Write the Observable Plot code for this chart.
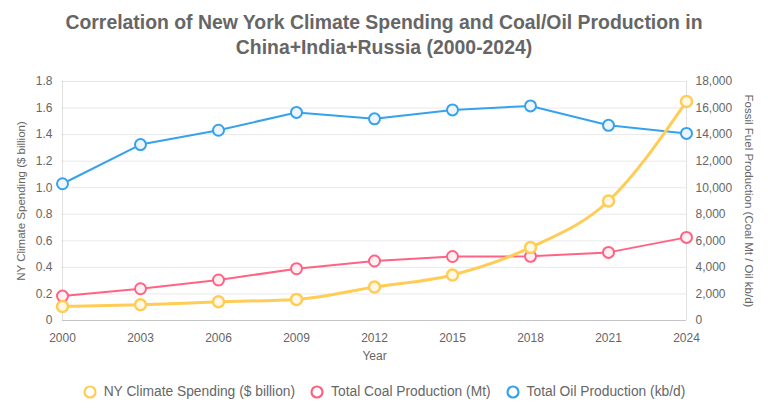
<!DOCTYPE html>
<html>
<head>
<meta charset="utf-8">
<script src="https://cdn.jsdelivr.net/npm/d3@7"></script>
<script src="https://cdn.jsdelivr.net/npm/@observablehq/plot@0.6"></script>
<style>
  body { margin: 0; background: #fff; font-family: "Liberation Sans", Arial, sans-serif; }
  #title { width: 768px; height: 60px; padding-top: 10px; text-align: center; font-weight: bold; font-size: 19.4px; line-height: 25px; color: #666; }
  #legend { width: 768px; display: flex; justify-content: center; align-items: center; gap: 15px; margin-top: 12px; font-size: 13.8px; color: #666; line-height: 20px; box-sizing: border-box; }
  .item { display: flex; align-items: center; gap: 7px; }
</style>
</head>
<body>
<div id="title">Correlation of New York Climate Spending and Coal/Oil Production in<br>China+India+Russia (2000-2024)</div>
<div id="chart"></div>
<div id="legend"></div>
<script>
const years = ["2000", "2003", "2006", "2009", "2012", "2015", "2018", "2021", "2024"];
const nySpending = [0.106, 0.118, 0.141, 0.159, 0.252, 0.343, 0.55, 0.9, 1.65];
const coalProduction = [1840, 2390, 3050, 3900, 4480, 4820, 4830, 5130, 6260];
const oilProduction = [10300, 13250, 14330, 15670, 15190, 15860, 16160, 14700, 14090];
const leftTicks = [0, 0.2, 0.4, 0.6, 0.8, 1.0, 1.2, 1.4, 1.6, 1.8];
const rightTicks = [0, 2000, 4000, 6000, 8000, 10000, 12000, 14000, 16000, 18000];
const seriesNames = ["NY Climate Spending ($ billion)", "Total Coal Production (Mt)", "Total Oil Production (kb/d)"];
const colors = ["rgb(255,205,86)", "rgb(255,99,132)", "rgb(54,162,235)"];
const leftTitle = "NY Climate Spending ($ billion)";
const rightTitle = "Fossil Fuel Production (Coal Mt / Oil kb/d)";
const xTitle = "Year";

const ratio = 10000; // right-axis units per left-axis unit
const ny = years.map((y, i) => ({year: y, v: nySpending[i]}));
const coal = years.map((y, i) => ({year: y, v: coalProduction[i] / ratio}));
const oil = years.map((y, i) => ({year: y, v: oilProduction[i] / ratio}));

const chart = Plot.plot({
  width: 768,
  height: 300,
  marginTop: 11,
  marginBottom: 50,
  marginLeft: 62,
  marginRight: 82,
  style: {fontFamily: "Liberation Sans, Arial, sans-serif", fontSize: "12px", color: "#666"},
  x: {type: "point", domain: years, padding: 0},
  y: {domain: [0, 1.8]},
  marks: [
    Plot.gridY(leftTicks, {stroke: "#000", strokeOpacity: 0.09}),
    Plot.ruleX([years[0], years[years.length - 1]], {stroke: "#000", strokeOpacity: 0.12}),
    Plot.ruleY([0], {stroke: "#000", strokeOpacity: 0.15}),
    Plot.axisX({tickSize: 0, tickPadding: 13, label: null}),
    Plot.axisY({anchor: "left", ticks: leftTicks, tickSize: 0, tickPadding: 10, label: null,
      tickFormat: d => d === 0 ? "0" : d.toFixed(1)}),
    Plot.axisY({anchor: "right", ticks: rightTicks.map(t => t / ratio), tickSize: 0, tickPadding: 9, label: null,
      tickFormat: d => d3.format(",")(Math.round(d * ratio))}),
    Plot.text([leftTitle], {text: d => d, frameAnchor: "left", textAnchor: "middle", dx: -41, rotate: -90, fontSize: 11.5, fill: "#666"}),
    Plot.text([rightTitle], {text: d => d, frameAnchor: "right", textAnchor: "middle", dx: 62, rotate: 90, fontSize: 11.5, fill: "#666"}),
    Plot.text([xTitle], {text: d => d, frameAnchor: "bottom", dy: 39, fontSize: 12, fill: "#666"}),
    Plot.line(oil, {x: "year", y: "v", stroke: colors[2], strokeWidth: 2}),
    Plot.dot(oil, {x: "year", y: "v", r: 5.5, stroke: colors[2], strokeWidth: 2, fill: "#eef6fd"}),
    Plot.line(coal, {x: "year", y: "v", stroke: colors[1], strokeWidth: 2}),
    Plot.dot(coal, {x: "year", y: "v", r: 5.5, stroke: colors[1], strokeWidth: 2, fill: "#fff0f3"}),
    Plot.line(ny, {x: "year", y: "v", stroke: colors[0], strokeWidth: 3, curve: "monotone-x"}),
    Plot.dot(ny, {x: "year", y: "v", r: 5.5, stroke: colors[0], strokeWidth: 2.5, fill: "#fff8e6"})
  ]
});
document.getElementById("chart").append(chart);

const legend = document.getElementById("legend");
seriesNames.forEach((name, i) => {
  const item = document.createElement("div");
  item.className = "item";
  item.innerHTML = `<svg width="14" height="14"><circle cx="7" cy="7" r="5.5" fill="white" stroke="${colors[i]}" stroke-width="2.2"/></svg><span>${name}</span>`;
  legend.append(item);
});
</script>
</body>
</html>
